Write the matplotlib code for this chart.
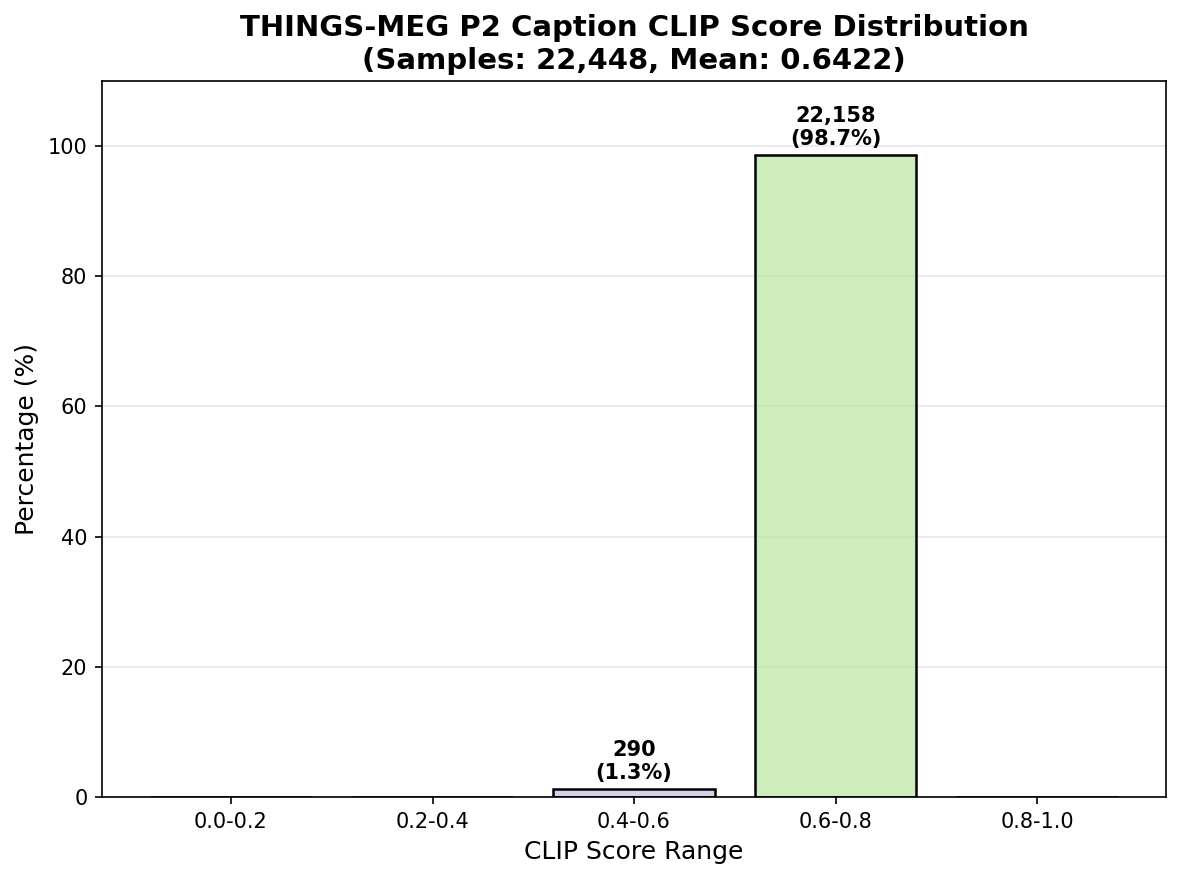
import matplotlib
matplotlib.use("Agg")
import matplotlib.pyplot as plt
from matplotlib.colors import to_rgba
import numpy as np

# bins of CLIP score and sample counts per bin
ranges = ["0.0-0.2", "0.2-0.4", "0.4-0.6", "0.6-0.8", "0.8-1.0"]
counts = [0, 0, 290, 22158, 0]
mean_score = 0.6422
colors = ["#ff9999", "#ffcc99", "#c6bde0", "#b8e8a0", "#99ccff"]

total = sum(counts)
percentages = [100.0 * c / total for c in counts]

fig = plt.figure(figsize=(7.88, 5.86), dpi=150)
ax = fig.add_axes([0.0863, 0.0933, 0.9002, 0.8145])

x = np.arange(len(ranges))
face = [to_rgba(c, 0.7) for c in colors]
bars = ax.bar(x, percentages, width=0.8, color=face,
              edgecolor="black", linewidth=1.2)

for i, b in enumerate(bars):
    if counts[i] > 0:
        ax.text(b.get_x() + b.get_width() / 2, b.get_height() + 0.8,
                f"{counts[i]:,}\n({percentages[i]:.1f}%)",
                ha="center", va="bottom", fontsize=10, fontweight="bold",
                linespacing=1.2)

ax.set_xticks(x)
ax.set_xticklabels(ranges)
ax.set_ylim(0, 110)
ax.set_xlabel("CLIP Score Range", fontsize=12)
ax.set_ylabel("Percentage (%)", fontsize=12)
ax.set_title(f"THINGS-MEG P2 Caption CLIP Score Distribution\n(Samples: {total:,}, Mean: {mean_score:.4f})",
             fontsize=14, fontweight="bold")
ax.grid(axis="y", alpha=0.3)
ax.set_axisbelow(True)

fig.savefig("out.png", dpi=150)
